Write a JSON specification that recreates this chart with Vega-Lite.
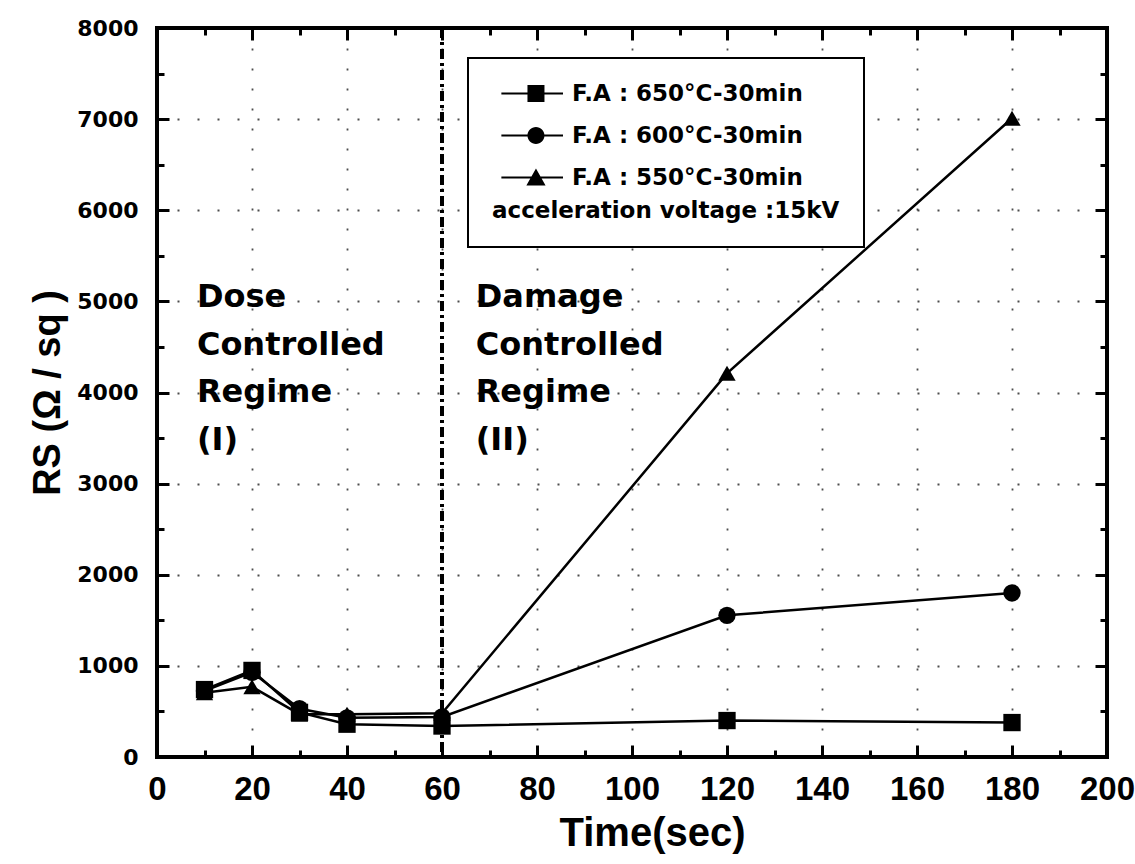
{
  "$schema": "https://vega.github.io/schema/vega-lite/v6.json",
  "width": 950,
  "height": 729,
  "autosize": {"type": "none"},
  "padding": {"left": 157, "top": 28, "right": 28, "bottom": 107},
  "background": "white",
  "config": {
    "view": {"stroke": "black", "strokeWidth": 4},
    "axis": {"domain": false, "labelColor": "black", "titleColor": "black", "gridColor": "black", "gridDash": [2, 18], "gridWidth": 1.8},
    "legend": {"strokeColor": "black", "strokeWidth": 2, "fillColor": "white"}
  },
  "datasets": {
    "rs": [
      {"series": "F.A : 600°C-30min", "t": 10, "rs": 725},
      {"series": "F.A : 600°C-30min", "t": 20, "rs": 930},
      {"series": "F.A : 600°C-30min", "t": 30, "rs": 530},
      {"series": "F.A : 600°C-30min", "t": 40, "rs": 430},
      {"series": "F.A : 600°C-30min", "t": 60, "rs": 440},
      {"series": "F.A : 600°C-30min", "t": 120, "rs": 1555},
      {"series": "F.A : 600°C-30min", "t": 180, "rs": 1800},
      {"series": "F.A : 550°C-30min", "t": 10, "rs": 705},
      {"series": "F.A : 550°C-30min", "t": 20, "rs": 770},
      {"series": "F.A : 550°C-30min", "t": 30, "rs": 470},
      {"series": "F.A : 550°C-30min", "t": 40, "rs": 470},
      {"series": "F.A : 550°C-30min", "t": 60, "rs": 480},
      {"series": "F.A : 550°C-30min", "t": 120, "rs": 4210},
      {"series": "F.A : 550°C-30min", "t": 180, "rs": 7010},
      {"series": "F.A : 650°C-30min", "t": 10, "rs": 740},
      {"series": "F.A : 650°C-30min", "t": 20, "rs": 950},
      {"series": "F.A : 650°C-30min", "t": 30, "rs": 490},
      {"series": "F.A : 650°C-30min", "t": 40, "rs": 360},
      {"series": "F.A : 650°C-30min", "t": 60, "rs": 340},
      {"series": "F.A : 650°C-30min", "t": 120, "rs": 400},
      {"series": "F.A : 650°C-30min", "t": 180, "rs": 378}
    ],
    "ann": [
      {"t": 8.4, "rs": 4938, "text": "Dose"},
      {"t": 8.4, "rs": 4412, "text": "Controlled"},
      {"t": 8.4, "rs": 3896, "text": "Regime"},
      {"t": 8.4, "rs": 3369, "text": "(I)"},
      {"t": 67.1, "rs": 4938, "text": "Damage"},
      {"t": 67.1, "rs": 4412, "text": "Controlled"},
      {"t": 67.1, "rs": 3896, "text": "Regime"},
      {"t": 67.1, "rs": 3369, "text": "(II)"}
    ],
    "vline": [{"t": 60}]
  },
  "layer": [
    {
      "data": {"name": "rs"},
      "mark": {"type": "line", "color": "black", "strokeWidth": 2.5},
      "encoding": {
        "x": {
          "field": "t", "type": "quantitative",
          "scale": {"domain": [0, 200], "nice": false, "zero": false},
          "axis": {
            "orient": "bottom",
            "values": [0,10,20,30,40,50,60,70,80,90,100,110,120,130,140,150,160,170,180,190,200],
            "labelExpr": "datum.value % 20 === 0 ? datum.label : ''",
            "ticks": true, "tickColor": "black", "tickWidth": 3,
            "tickSize": {"condition": {"test": "datum.value % 20 === 0", "value": -12}, "value": -7},
            "grid": true,
            "gridOpacity": {"condition": {"test": "datum.value % 20 === 0", "value": 0.7}, "value": 0},
            "labelFont": "Liberation Sans", "labelFontSize": 33, "labelFontWeight": "bold",
            "labelPadding": 28, "labelFlush": false, "labelOverlap": false,
            "title": "Time(sec)", "titleFont": "Liberation Sans", "titleFontSize": 40, "titleFontWeight": "bold",
            "titleX": 495, "titleY": 88, "titleBaseline": "alphabetic"
          }
        },
        "y": {
          "field": "rs", "type": "quantitative",
          "scale": {"domain": [0, 8000], "nice": false, "zero": false},
          "axis": {
            "orient": "left",
            "values": [0,500,1000,1500,2000,2500,3000,3500,4000,4500,5000,5500,6000,6500,7000,7500,8000],
            "format": "d",
            "labelExpr": "datum.value % 1000 === 0 ? datum.label : ''",
            "ticks": true, "tickColor": "black", "tickWidth": 3,
            "tickSize": {"condition": {"test": "datum.value % 1000 === 0", "value": -12}, "value": -7},
            "grid": true,
            "gridOpacity": {"condition": {"test": "datum.value % 1000 === 0", "value": 0.7}, "value": 0},
            "labelFont": "DejaVu Sans", "labelFontSize": 22, "labelFontWeight": "bold",
            "labelPadding": 31, "labelFlush": false, "labelOverlap": false,
            "title": "RS (Ω / sq )", "titleFont": "Liberation Sans", "titleFontSize": 38, "titleFontWeight": "bold",
            "titleX": -98, "titleY": 364.5, "titleBaseline": "alphabetic", "titleAngle": -90
          }
        },
        "detail": {"field": "series"}
      }
    },
    {
      "data": {"name": "vline"},
      "mark": {"type": "rule", "color": "black", "strokeWidth": 4, "strokeDash": [10, 4, 3, 4]},
      "encoding": {"x": {"field": "t", "type": "quantitative", "axis": null}}
    },
    {
      "data": {"name": "rs"},
      "mark": {"type": "point", "filled": true, "color": "black", "opacity": 1, "size": 300},
      "encoding": {
        "x": {"field": "t", "type": "quantitative", "axis": null},
        "y": {"field": "rs", "type": "quantitative", "axis": null},
        "shape": {
          "field": "series", "type": "nominal",
          "scale": {"domain": ["F.A : 650°C-30min", "F.A : 600°C-30min", "F.A : 550°C-30min"], "range": ["square", "circle", "triangle-up"]},
          "legend": null
        }
      }
    },
    {
      "data": {"name": "rs"},
      "mark": {"type": "point", "filled": true, "color": "black", "opacity": 0, "size": 289},
      "encoding": {
        "x": {"field": "t", "type": "quantitative", "axis": null},
        "y": {"field": "rs", "type": "quantitative", "axis": null},
        "shape": {
          "field": "series", "type": "nominal",
          "scale": {
            "domain": ["F.A : 650°C-30min", "F.A : 600°C-30min", "F.A : 550°C-30min"],
            "range": [
              "M-0.25,-0.13H7V0.13H-0.25ZM2.82,-1H4.82V1H2.82Z",
              "M-0.25,-0.13H7V0.13H-0.25ZM2.82,0A1,1 0 1,1 4.82,0A1,1 0 1,1 2.82,0Z",
              "M-0.25,-0.13H7V0.13H-0.25ZM3.82,-1.05L4.95,0.95H2.69Z"
            ]
          },
          "legend": {
            "orient": "none", "legendX": 311, "legendY": 30,
            "title": "acceleration voltage :15kV", "titleOrient": "bottom", "titleAnchor": "start",
            "titleFont": "DejaVu Sans", "titleFontSize": 23, "titleFontWeight": "bold", "titleColor": "black", "titlePadding": 10, "titleLimit": 500,
            "labelFont": "DejaVu Sans", "labelFontSize": 23, "labelFontWeight": "bold", "labelColor": "black", "labelOffset": 57, "labelLimit": 500,
            "symbolSize": 289, "symbolOpacity": 1, "symbolFillColor": "black",
            "rowPadding": 17, "padding": 24, "strokeColor": "black"
          }
        }
      }
    },
    {
      "data": {"name": "ann"},
      "mark": {"type": "text", "align": "left", "baseline": "alphabetic", "font": "DejaVu Sans", "fontSize": 32, "fontWeight": "bold", "color": "black"},
      "encoding": {
        "x": {
          "field": "t", "type": "quantitative",
          "axis": {
            "orient": "top", "labels": false, "title": null, "grid": false,
            "values": [0,10,20,30,40,50,60,70,80,90,100,110,120,130,140,150,160,170,180,190,200],
            "ticks": true, "tickColor": "black", "tickWidth": 3,
            "tickSize": {"condition": {"test": "datum.value % 20 === 0", "value": -12}, "value": -7}
          }
        },
        "y": {
          "field": "rs", "type": "quantitative",
          "axis": {
            "orient": "right", "labels": false, "title": null, "grid": false,
            "values": [0,500,1000,1500,2000,2500,3000,3500,4000,4500,5000,5500,6000,6500,7000,7500,8000],
            "ticks": true, "tickColor": "black", "tickWidth": 3,
            "tickSize": {"condition": {"test": "datum.value % 1000 === 0", "value": -12}, "value": -7}
          }
        },
        "text": {"field": "text"}
      }
    }
  ],
  "resolve": {"axis": {"x": "independent", "y": "independent"}, "scale": {"shape": "independent"}, "legend": {"shape": "independent"}}
}
